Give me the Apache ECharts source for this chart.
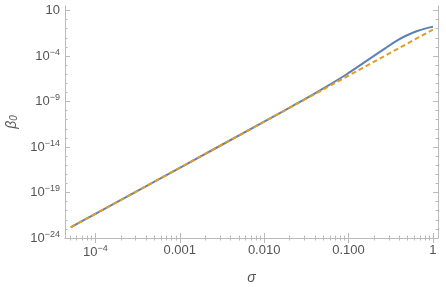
<!DOCTYPE html>
<html>
<head>
<meta charset="utf-8">
<script src="https://cdn.jsdelivr.net/npm/echarts@6/dist/echarts.min.js"></script>
<style>
  html, body { margin: 0; padding: 0; background: #fff; }
  #main { width: 446px; height: 287px; }
</style>
</head>
<body>
<div id="main"></div>
<script>
// values (sigma, beta_0)
var blueSigma = [5.1e-5, 1e-4, 1e-3, 1e-2, 0.0178, 0.03, 0.054, 0.093, 0.16, 0.277, 0.37, 0.479, 0.64, 0.826, 1];
var blueBeta = [1.5e-23, 4.6e-22, 5.2e-17, 6.0e-12, 1.15e-10, 1.66e-9, 4.0e-8, 8.7e-7, 2.5e-5, 7.9e-4, 4.57e-3, 0.0166, 0.0513, 0.107, 0.158];
var dashSigma = [5.1e-5, 1e-4, 1e-3, 1e-2, 0.1, 1];
var dashBeta = [1.5e-23, 4.6e-22, 5.2e-17, 6.0e-12, 6.9e-7, 0.079];

var xTicks = [1e-4, 1e-3, 1e-2, 0.1, 1];
var xTickLabels = ["10{sup|\u22124}", "0.001", "0.010", "0.100", "1"];
var yTicks = [1e-24, 1e-19, 1e-14, 1e-9, 1e-4, 10];
var yTickLabels = ["10{sup|\u221224}", "10{sup|\u221219}", "10{sup|\u221214}", "10{sup|\u22129}", "10{sup|\u22124}", "10"];

var xMin = Math.pow(10, -4.36), xMax = Math.pow(10, 0.06);
var yMin = 1e-24, yMax = Math.pow(10, 1.49);

// minor ticks: 2..9 per decade on x, every decade on y
var xMinor = [];
for (var d = -5; d <= 0; d++) {
  for (var k = 2; k <= 9; k++) {
    var v = k * Math.pow(10, d);
    if (v > xMin && v < xMax) xMinor.push(v);
  }
}
var yMinor = [];
for (var e = -23; e <= 1; e++) {
  if ((e + 24) % 5 != 0) yMinor.push(Math.pow(10, e));
}

var frameColor = "#bababa";
var textColor = "#555";
var font = "Liberation Sans";

function pickLabel(ticks, labels, v) {
  for (var i = 0; i < ticks.length; i++) {
    if (Math.abs(Math.log10(v) - Math.log10(ticks[i])) < 0.01) return labels[i];
  }
  return "";
}

var richLabel = {
  sup: { fontSize: 9, fontFamily: font, color: textColor, padding: [0, 0, 7, 0] }
};

function makeAxis(pos, min, max, ticks, len, main, labels) {
  var ax = {
    type: "log",
    logBase: 10,
    position: pos,
    min: min,
    max: max,
    splitLine: { show: false },
    axisLine: { show: main, lineStyle: { color: frameColor, width: 1 } },
    axisTick: {
      show: true,
      inside: true,
      length: len,
      customValues: ticks,
      lineStyle: { color: frameColor, width: 1 }
    },
    axisLabel: { show: false }
  };
  if (labels) {
    ax.axisLabel = {
      show: true,
      customValues: labels.ticks,
      color: textColor,
      fontFamily: font,
      fontSize: 13,
      margin: pos == "bottom" ? 6 : 5,
      rich: richLabel,
      formatter: function (v) {
        return pickLabel(labels.ticks, labels.text, v);
      }
    };
  }
  return ax;
}

var xAxes = [
  makeAxis("bottom", xMin, xMax, xTicks, 5, true, { ticks: xTicks, text: xTickLabels }),
  makeAxis("bottom", xMin, xMax, xMinor, 2.5, false),
  makeAxis("top", xMin, xMax, xTicks, 5, true),
  makeAxis("top", xMin, xMax, xMinor, 2.5, false)
];
xAxes[0].name = "\u03c3";
xAxes[0].nameLocation = "middle";
xAxes[0].nameGap = 33;
xAxes[0].nameTextStyle = { fontFamily: font, fontSize: 14, fontStyle: "italic", color: textColor };

var yAxes = [
  makeAxis("left", yMin, yMax, yTicks, 5, true, { ticks: yTicks, text: yTickLabels }),
  makeAxis("left", yMin, yMax, yMinor, 2.5, false),
  makeAxis("right", yMin, yMax, yTicks, 5, true),
  makeAxis("right", yMin, yMax, yMinor, 2.5, false)
];
yAxes[0].name = "{b|\u03b2}{s|0}";
yAxes[0].nameLocation = "middle";
yAxes[0].nameGap = 44;
yAxes[0].nameTextStyle = {
  rich: {
    b: { fontFamily: font, fontSize: 14, fontStyle: "italic", color: textColor },
    s: { fontFamily: font, fontSize: 10, fontStyle: "italic", color: textColor, padding: [5, 0, 0, 0] }
  }
};

var myChart = echarts.init(document.getElementById("main"));
var option = {
  animation: false,
  grid: { left: 65, right: 8, top: 6, bottom: 49, outerBoundsMode: "none" },
  xAxis: xAxes,
  yAxis: yAxes,
  series: [
    {
      type: "line",
      xAxisIndex: 0,
      yAxisIndex: 0,
      showSymbol: false,
      smooth: 0.3,
      lineStyle: { color: "#5e81b5", width: 2 },
      data: blueSigma.map(function (s, i) { return [s, blueBeta[i]]; })
    },
    {
      type: "line",
      xAxisIndex: 0,
      yAxisIndex: 0,
      showSymbol: false,
      lineStyle: { color: "#e19c24", width: 2, type: [5, 3] },
      data: dashSigma.map(function (s, i) { return [s, dashBeta[i]]; })
    }
  ]
};
myChart.setOption(option);
</script>
</body>
</html>
